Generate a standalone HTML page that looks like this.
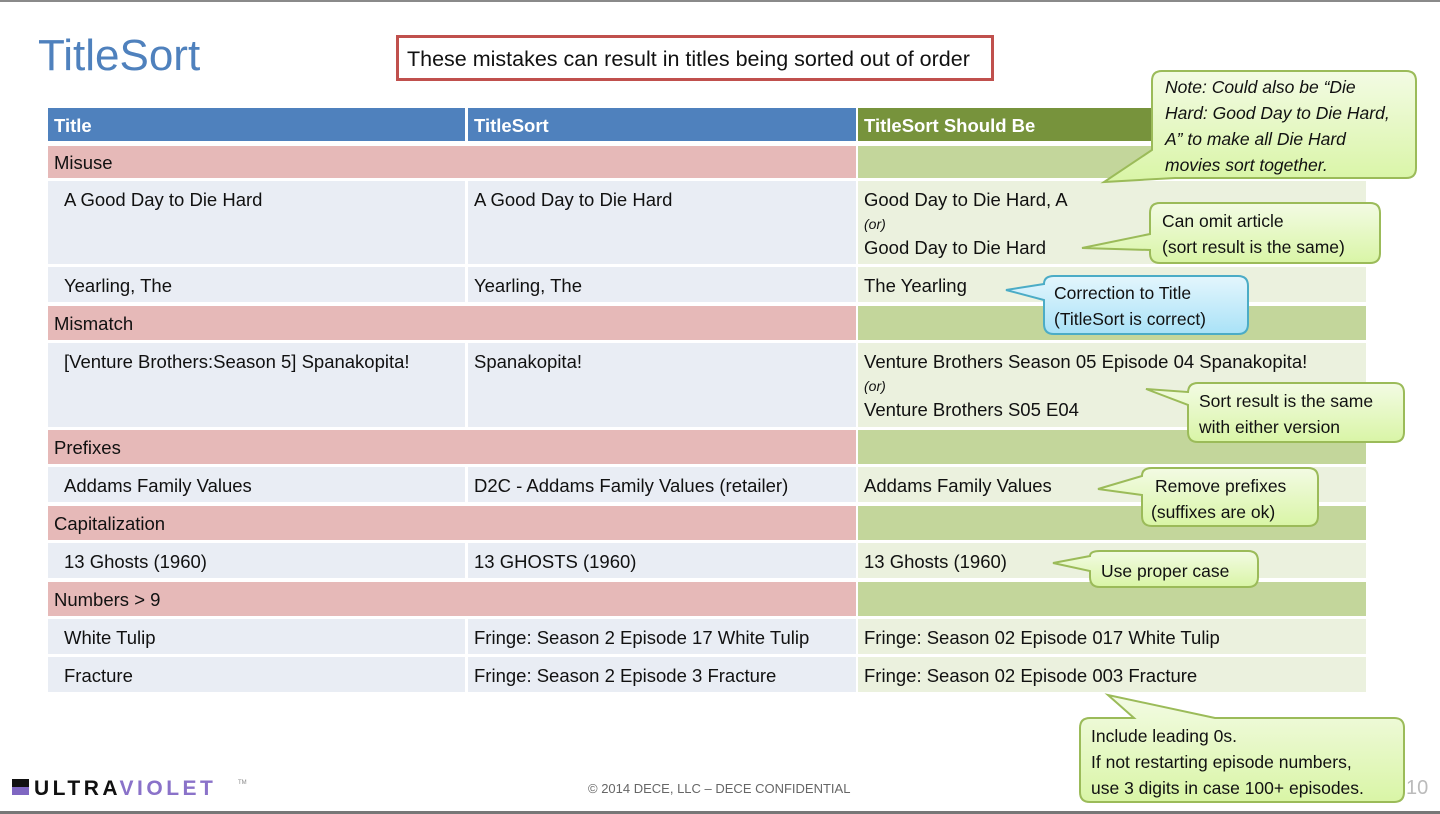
<!DOCTYPE html>
<html><head><meta charset="utf-8"><style>
*{margin:0;padding:0;box-sizing:border-box}
body{width:1440px;height:814px;position:relative;background:#fff;font-family:"Liberation Sans",sans-serif;overflow:hidden;color:#111}
.c{position:absolute;font-size:18.5px;padding-left:16px;line-height:22px;white-space:nowrap}
.h{color:#fff;font-weight:bold;padding-left:6px}
.s{padding-left:6px}
.r{position:absolute}
svg{position:absolute;left:0;top:0}
</style></head><body>
<div class="r" style="left:0;top:0;width:1440px;height:2px;background:#8a8a8a"></div>
<div class="r" style="left:0;top:811px;width:1440px;height:3px;background:#777"></div>
<div class="r" style="left:38px;top:31px;font-size:44px;color:#4f81bd">TitleSort</div>
<div class="r" style="left:396px;top:35px;width:598px;height:46px;border:3px solid #c0504d;font-size:21.5px;padding:9px 0 0 8px;white-space:nowrap">These mistakes can result in titles being sorted out of order</div>

<div class="r" style="left:48px;top:108px;width:417px;height:33px;background:#4f81bd"></div>
<div class="r" style="left:468px;top:108px;width:388px;height:33px;background:#4f81bd"></div>
<div class="r" style="left:858px;top:108px;width:508px;height:33px;background:#77933c"></div>
<div class="c h" style="left:48px;top:115px">Title</div>
<div class="c h" style="left:468px;top:115px">TitleSort</div>
<div class="c h" style="left:858px;top:115px">TitleSort Should Be</div>

<div class="r" style="left:48px;top:146px;width:808px;height:32px;background:#e6b9b8"></div><div class="r" style="left:858px;top:146px;width:508px;height:32px;background:#c3d69b"></div>
<div class="c s" style="left:48px;top:152px">Misuse</div>
<div class="r" style="left:48px;top:306px;width:808px;height:34px;background:#e6b9b8"></div><div class="r" style="left:858px;top:306px;width:508px;height:34px;background:#c3d69b"></div>
<div class="c s" style="left:48px;top:313px">Mismatch</div>
<div class="r" style="left:48px;top:430px;width:808px;height:34px;background:#e6b9b8"></div><div class="r" style="left:858px;top:430px;width:508px;height:34px;background:#c3d69b"></div>
<div class="c s" style="left:48px;top:437px">Prefixes</div>
<div class="r" style="left:48px;top:506px;width:808px;height:34px;background:#e6b9b8"></div><div class="r" style="left:858px;top:506px;width:508px;height:34px;background:#c3d69b"></div>
<div class="c s" style="left:48px;top:513px">Capitalization</div>
<div class="r" style="left:48px;top:582px;width:808px;height:34px;background:#e6b9b8"></div><div class="r" style="left:858px;top:582px;width:508px;height:34px;background:#c3d69b"></div>
<div class="c s" style="left:48px;top:589px">Numbers &gt; 9</div>

<div class="r" style="left:48px;top:181px;width:417px;height:83px;background:#e9edf4"></div><div class="r" style="left:468px;top:181px;width:388px;height:83px;background:#e9edf4"></div><div class="r" style="left:858px;top:181px;width:508px;height:83px;background:#ebf1de"></div>
<div class="r" style="left:48px;top:267px;width:417px;height:35px;background:#e9edf4"></div><div class="r" style="left:468px;top:267px;width:388px;height:35px;background:#e9edf4"></div><div class="r" style="left:858px;top:267px;width:508px;height:35px;background:#ebf1de"></div>
<div class="r" style="left:48px;top:343px;width:417px;height:84px;background:#e9edf4"></div><div class="r" style="left:468px;top:343px;width:388px;height:84px;background:#e9edf4"></div><div class="r" style="left:858px;top:343px;width:508px;height:84px;background:#ebf1de"></div>
<div class="r" style="left:48px;top:467px;width:417px;height:35px;background:#e9edf4"></div><div class="r" style="left:468px;top:467px;width:388px;height:35px;background:#e9edf4"></div><div class="r" style="left:858px;top:467px;width:508px;height:35px;background:#ebf1de"></div>
<div class="r" style="left:48px;top:543px;width:417px;height:35px;background:#e9edf4"></div><div class="r" style="left:468px;top:543px;width:388px;height:35px;background:#e9edf4"></div><div class="r" style="left:858px;top:543px;width:508px;height:35px;background:#ebf1de"></div>
<div class="r" style="left:48px;top:619px;width:417px;height:35px;background:#e9edf4"></div><div class="r" style="left:468px;top:619px;width:388px;height:35px;background:#e9edf4"></div><div class="r" style="left:858px;top:619px;width:508px;height:35px;background:#ebf1de"></div>
<div class="r" style="left:48px;top:657px;width:417px;height:35px;background:#e9edf4"></div><div class="r" style="left:468px;top:657px;width:388px;height:35px;background:#e9edf4"></div><div class="r" style="left:858px;top:657px;width:508px;height:35px;background:#ebf1de"></div>

<div class="c" style="left:48px;top:189px">A Good Day to Die Hard</div>
<div class="c s" style="left:468px;top:189px">A Good Day to Die Hard</div>
<div class="c s" style="left:858px;top:189px">Good Day to Die Hard, A<br><i style="font-size:14px;line-height:26px">(or)</i><br>Good Day to Die Hard</div>
<div class="c" style="left:48px;top:275px">Yearling, The</div>
<div class="c s" style="left:468px;top:275px">Yearling, The</div>
<div class="c s" style="left:858px;top:275px">The Yearling</div>
<div class="c" style="left:48px;top:351px">[Venture Brothers:Season 5] Spanakopita!</div>
<div class="c s" style="left:468px;top:351px">Spanakopita!</div>
<div class="c s" style="left:858px;top:351px">Venture Brothers Season 05 Episode 04 Spanakopita!<br><i style="font-size:14px;line-height:26px">(or)</i><br>Venture Brothers S05 E04</div>
<div class="c" style="left:48px;top:475px">Addams Family Values</div>
<div class="c s" style="left:468px;top:475px">D2C - Addams Family Values (retailer)</div>
<div class="c s" style="left:858px;top:475px">Addams Family Values</div>
<div class="c" style="left:48px;top:551px">13 Ghosts (1960)</div>
<div class="c s" style="left:468px;top:551px">13 GHOSTS (1960)</div>
<div class="c s" style="left:858px;top:551px">13 Ghosts (1960)</div>
<div class="c" style="left:48px;top:627px">White Tulip</div>
<div class="c s" style="left:468px;top:627px">Fringe: Season 2 Episode 17 White Tulip</div>
<div class="c s" style="left:858px;top:627px">Fringe: Season 02 Episode 017 White Tulip</div>
<div class="c" style="left:48px;top:665px">Fracture</div>
<div class="c s" style="left:468px;top:665px">Fringe: Season 2 Episode 3 Fracture</div>
<div class="c s" style="left:858px;top:665px">Fringe: Season 02 Episode 003 Fracture</div>

<svg width="1440" height="814">
<defs>
<linearGradient id="g" x1="0" y1="0" x2="0" y2="1"><stop offset="0" stop-color="#f3fbe4"/><stop offset="1" stop-color="#d9f5a6"/></linearGradient>
<linearGradient id="b" x1="0" y1="0" x2="0" y2="1"><stop offset="0" stop-color="#e4f6fd"/><stop offset="1" stop-color="#a9e2f7"/></linearGradient>
</defs>
<g stroke="#9bbb59" stroke-width="2" fill="url(#g)">
<path d="M1162,71 H1406 Q1416,71 1416,81 V168 Q1416,178 1406,178 H1175 L1104,182 L1152,150 V81 Q1152,71 1162,71Z"/>
<path d="M1160,203 H1370 Q1380,203 1380,213 V253 Q1380,263 1370,263 H1160 Q1150,263 1150,253 V250 L1082,248 L1150,234 V213 Q1150,203 1160,203Z"/>
<path d="M1198,383 H1394 Q1404,383 1404,393 V432 Q1404,442 1394,442 H1198 Q1188,442 1188,432 V405 L1146,389 L1188,392 V393 Q1188,383 1198,383Z"/>
<path d="M1152,468 H1308 Q1318,468 1318,478 V516 Q1318,526 1308,526 H1152 Q1142,526 1142,516 V495 L1098,489 L1142,476 Q1142,468 1152,468Z"/>
<path d="M1100,551 H1248 Q1258,551 1258,561 V577 Q1258,587 1248,587 H1100 Q1090,587 1090,577 V571 L1053,563 L1090,556 Q1090,551 1100,551Z"/>
<path d="M1090,718 H1134 L1108,695 L1215,718 H1394 Q1404,718 1404,728 V792 Q1404,802 1394,802 H1090 Q1080,802 1080,792 V728 Q1080,718 1090,718Z"/>
</g>
<path d="M1054,276 H1238 Q1248,276 1248,286 V324 Q1248,334 1238,334 H1054 Q1044,334 1044,324 V300 L1006,290 L1044,284 Q1044,276 1054,276Z" stroke="#4bacc6" stroke-width="2" fill="url(#b)"/>
<g font-family="Liberation Sans, sans-serif" font-size="17.5" fill="#111">
<g font-style="italic"><text x="1165" y="93">Note: Could also be “Die</text><text x="1165" y="119">Hard: Good Day to Die Hard,</text><text x="1165" y="145">A” to make all Die Hard</text><text x="1165" y="171">movies sort together.</text></g>
<text x="1162" y="227">Can omit article</text><text x="1162" y="253">(sort result is the same)</text>
<text x="1054" y="299">Correction to Title</text><text x="1054" y="325">(TitleSort is correct)</text>
<text x="1199" y="407">Sort result is the same</text><text x="1199" y="433">with either version</text>
<text x="1155" y="492">Remove prefixes</text><text x="1151" y="518">(suffixes are ok)</text>
<text x="1101" y="577">Use proper case</text>
<text x="1091" y="742">Include leading 0s.</text><text x="1091" y="768">If not restarting episode numbers,</text><text x="1091" y="794">use 3 digits in case 100+ episodes.</text>
</g>
<text x="1406" y="794" font-family="Liberation Sans, sans-serif" font-size="20" fill="#bbb">10</text>
<rect x="12" y="779" width="17" height="8" fill="#111"/><rect x="12" y="787" width="17" height="8" fill="#7f67c2"/>
<text x="34" y="795" font-family="Liberation Sans, sans-serif" font-weight="bold" font-size="21" fill="#111" letter-spacing="3.5">ULTRA<tspan fill="#8a72c9">VIOLET</tspan></text>
<text x="238" y="784" font-family="Liberation Sans, sans-serif" font-size="6" fill="#888">TM</text>
<text x="588" y="793" font-family="Liberation Sans, sans-serif" font-size="13" fill="#666">© 2014 DECE, LLC – DECE CONFIDENTIAL</text>
</svg>
</body></html>
